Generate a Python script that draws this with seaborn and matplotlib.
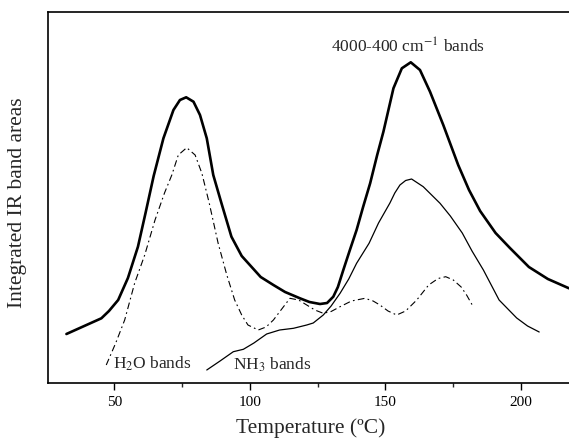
import matplotlib
matplotlib.use("Agg")
import matplotlib.pyplot as plt
import numpy as np
import pandas as pd
import seaborn as sns

# values (temperature in C, band area in arbitrary units)
temp_total = [32.3, 45.2, 48.0, 51.4, 55.0, 58.7, 61.5, 64.5, 68.1, 71.8, 74.2, 76.5,
              79.2, 81.6, 84.1, 86.5, 89.5, 93.2, 97.0, 101.0, 104.0, 108.7, 113.0,
              118.5, 122.0, 125.9, 128.5, 130.8, 132.5, 134.5, 136.8, 139.4, 141.8,
              144.4, 147.0, 149.3, 153.0, 156.1, 159.4, 162.8, 166.5, 171.4, 176.9,
              180.9, 185.0, 190.7, 196.0, 203.0, 210.0, 217.8]
area_total = [49, 64.7, 72, 83, 105, 136.3, 170, 207, 244.7, 273, 283, 285.7,
              281.3, 268, 244.7, 208, 180, 146.3, 127, 115, 106, 98, 91,
              84.7, 81, 79, 80, 86.3, 96, 113, 132, 153, 176,
              199.7, 228, 251.3, 294.7, 314.7, 320.7, 313, 291.3, 258, 218,
              193, 172, 150, 135, 116, 104, 94.7]

temp_nh3 = [84.1, 89.0, 93.9, 97.6, 101.5, 106.2, 111.0, 116.1, 121.0, 123.4, 127.1,
            130.0, 133.3, 136.5, 139.4, 144.0, 147.5, 151.7, 153.5, 155.4, 157.5,
            159.7, 164.0, 170.2, 174.0, 178.4, 182.0, 186.2, 192.0, 198.5, 202.5,
            206.8]
area_nh3 = [13, 22, 31.3, 33.7, 40, 49, 53, 54.7, 58, 60, 68,
            77, 89.7, 104, 119.7, 139.7, 160, 180, 190, 198, 202.5,
            204, 196.3, 179.7, 167, 150, 132, 113, 83, 65, 57,
            51]

temp_h2o = [47.0, 50.5, 53.8, 57.5, 61.2, 65.0, 68.5, 71.2, 73.6, 76.7, 79.8, 82.3,
            85.0, 88.3, 91.5, 94.4, 97.0, 99.3, 103.1, 106.0, 108.7, 111.5, 114.8,
            118.0, 121.0, 124.0, 127.1, 130.0, 133.3, 137.5, 142.5, 145.5, 148.0,
            151.0, 154.2, 157.5, 161.6, 166.0, 169.5, 172.3, 175.1, 178.0, 180.0,
            182.5]
area_h2o = [18, 40, 63, 100, 128, 163, 190, 208, 228, 235.3, 228, 209.7,
            180, 139.7, 108, 83, 68, 58, 53, 56, 63, 73, 84.7,
            83, 78, 73, 69.7, 71.5, 76.3, 82, 84.7, 82, 78,
            72, 68, 72, 83, 98, 104.5, 106.3, 103, 96, 88,
            76]

major_ticks = [50, 100, 150, 200]
minor_ticks = [75, 125, 175]

sns.set_style("ticks")
plt.rcParams['font.family'] = ['Liberation Serif', 'DejaVu Serif']
plt.rcParams['mathtext.fontset'] = 'stix'

fig = plt.figure(figsize=(5.69, 4.47), dpi=100, facecolor='white')
ax = fig.add_axes([48/569, 1 - 383/447, 521/569, 371.3/447])

df_total = pd.DataFrame({'T': temp_total, 'A': area_total})
df_nh3 = pd.DataFrame({'T': temp_nh3, 'A': area_nh3})
df_h2o = pd.DataFrame({'T': temp_h2o, 'A': area_h2o})

sns.lineplot(data=df_total, x='T', y='A', ax=ax, color='black', lw=1.9, estimator=None,
             solid_joinstyle='round')
sns.lineplot(data=df_nh3, x='T', y='A', ax=ax, color='black', lw=0.9, estimator=None,
             solid_joinstyle='round')
sns.lineplot(data=df_h2o, x='T', y='A', ax=ax, color='black', lw=0.8, estimator=None,
             linestyle=(0, (6, 3, 1.5, 3)), dash_joinstyle='round')

ax.set_xlim(25.5, 217.8)
ax.set_ylim(0, 371.3)
ax.set_yticks([])
ax.set_xticks(major_ticks)
ax.set_xticks(minor_ticks, minor=True)
ax.tick_params(axis='x', which='major', direction='out', length=5, width=1, pad=4,
               labelsize=11, colors='black')
ax.tick_params(axis='x', which='minor', direction='out', length=3, width=1)

for side in ['left', 'top', 'bottom']:
    ax.spines[side].set_linewidth(1.2)
    ax.spines[side].set_color('black')
ax.spines['right'].set_visible(False)

ax.set_xlabel('Temperature (ºC)', fontsize=15.5, va='center')
ax.xaxis.set_label_coords(0.505, -0.121)
ax.set_ylabel('Integrated IR band areas', fontsize=15.5, va='center')
ax.yaxis.set_label_coords(-0.0576, 0.486)

ax.text(158.4, 336, '4000-400 cm$^{-1}$ bands', fontsize=12.5, ha='center', va='center')
ax.text(49.5, 19, 'H$_2$O bands', fontsize=12.5, ha='left', va='center')
ax.text(93.9, 18, 'NH$_3$ bands', fontsize=12.5, ha='left', va='center')

fig.savefig('out.png', dpi=100, facecolor='white')
